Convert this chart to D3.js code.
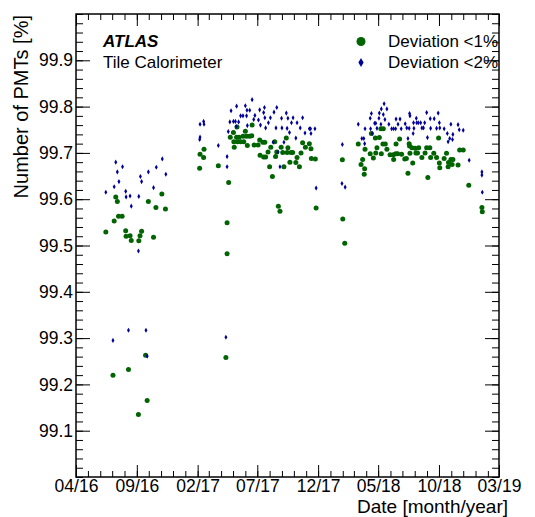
<!DOCTYPE html>
<html>
<head>
<meta charset="utf-8">
<script src="https://cdn.jsdelivr.net/npm/d3@7"></script>
<style>
  body { margin: 0; background: #fff; }
  text { font-family: "Liberation Sans", Arial, Helvetica, sans-serif; fill: #000; }
</style>
</head>
<body>
<svg id="chart" width="535" height="517"></svg>
<script>
// Fraction of good PMTs per calibration run, deviation below 1 %
const deviation1 = [
  ["2016-06-15",99.529],["2016-07-03",99.220],["2016-07-06",99.553],["2016-07-10",99.605],
  ["2016-07-14",99.595],["2016-07-17",99.563],["2016-07-26",99.563],["2016-08-04",99.532],
  ["2016-08-05",99.520],["2016-08-11",99.232],["2016-08-15",99.521],["2016-08-18",99.511],
  ["2016-09-05",99.135],["2016-09-06",99.510],["2016-09-09",99.521],["2016-09-13",99.531],
  ["2016-09-23",99.263],["2016-09-27",99.165],["2016-09-30",99.595],["2016-10-13",99.518],
  ["2016-10-19",99.582],["2016-11-03",99.611],["2016-11-12",99.579],
  ["2017-02-06",99.667],["2017-02-07",99.697],["2017-02-16",99.690],["2017-02-17",99.708],
  ["2017-03-25",99.672],["2017-04-13",99.258],["2017-04-16",99.549],["2017-04-16",99.482],
  ["2017-04-20",99.636],["2017-04-24",99.734],["2017-05-02",99.744],["2017-05-03",99.724],
  ["2017-05-04",99.712],["2017-05-10",99.734],["2017-05-11",99.756],["2017-05-12",99.724],
  ["2017-05-16",99.734],["2017-05-20",99.724],["2017-05-26",99.736],["2017-05-28",99.724],
  ["2017-06-01",99.747],["2017-06-04",99.736],["2017-06-06",99.716],["2017-06-12",99.736],
  ["2017-06-17",99.737],["2017-06-18",99.760],["2017-06-23",99.717],["2017-07-03",99.717],
  ["2017-07-07",99.728],["2017-07-08",99.695],["2017-07-15",99.723],["2017-07-17",99.691],
  ["2017-07-20",99.723],["2017-07-22",99.691],["2017-07-28",99.702],["2017-08-01",99.670],
  ["2017-08-04",99.712],["2017-08-08",99.649],["2017-08-14",99.724],["2017-08-16",99.692],
  ["2017-08-19",99.702],["2017-08-23",99.585],["2017-08-27",99.574],["2017-08-30",99.712],
  ["2017-09-03",99.701],["2017-09-06",99.670],["2017-09-12",99.732],["2017-09-14",99.701],
  ["2017-09-16",99.711],["2017-09-21",99.680],["2017-09-24",99.701],["2017-09-28",99.701],
  ["2017-10-06",99.679],["2017-10-09",99.690],["2017-10-15",99.670],["2017-10-19",99.700],
  ["2017-10-23",99.722],["2017-10-30",99.712],["2017-11-09",99.720],["2017-11-13",99.709],
  ["2017-11-14",99.688],["2017-11-24",99.687],["2017-11-26",99.581],
  ["2018-01-31",99.685],["2018-02-01",99.557],["2018-02-06",99.505],["2018-03-12",99.719],
  ["2018-03-19",99.675],["2018-03-23",99.686],["2018-03-27",99.654],["2018-03-28",99.666],
  ["2018-03-29",99.708],["2018-04-11",99.698],["2018-04-14",99.742],["2018-04-19",99.689],
  ["2018-04-24",99.732],["2018-04-25",99.700],["2018-04-28",99.711],["2018-05-04",99.733],
  ["2018-05-08",99.752],["2018-05-09",99.698],["2018-05-13",99.719],["2018-05-14",99.752],
  ["2018-05-19",99.719],["2018-05-23",99.708],["2018-05-31",99.696],["2018-06-08",99.696],
  ["2018-06-09",99.686],["2018-06-14",99.698],["2018-06-15",99.719],["2018-06-19",99.698],
  ["2018-06-24",99.730],["2018-06-29",99.697],["2018-07-07",99.687],["2018-07-11",99.688],
  ["2018-07-15",99.656],["2018-07-18",99.720],["2018-07-19",99.715],["2018-07-20",99.699],
  ["2018-07-25",99.711],["2018-07-27",99.678],["2018-08-02",99.710],["2018-08-04",99.700],
  ["2018-08-08",99.700],["2018-08-11",99.711],["2018-08-19",99.690],["2018-08-27",99.700],
  ["2018-08-31",99.711],["2018-09-03",99.647],["2018-09-08",99.711],["2018-09-10",99.690],
  ["2018-09-18",99.699],["2018-09-25",99.690],["2018-09-30",99.732],["2018-10-02",99.678],
  ["2018-10-03",99.668],["2018-10-14",99.688],["2018-10-20",99.699],["2018-10-24",99.670],
  ["2018-10-25",99.679],["2018-10-31",99.686],["2018-11-03",99.675],["2018-11-05",99.686],
  ["2018-11-18",99.674],["2018-11-22",99.706],["2018-12-01",99.706],["2018-12-15",99.630],
  ["2019-01-17",99.582],["2019-01-18",99.573]
];

// Fraction of good PMTs per calibration run, deviation below 2 %
const deviation2 = [
  ["2016-06-15",99.615],["2016-07-03",99.295],["2016-07-06",99.627],["2016-07-10",99.680],
  ["2016-07-14",99.659],["2016-07-18",99.638],["2016-07-27",99.670],["2016-08-04",99.617],
  ["2016-08-05",99.605],["2016-08-11",99.317],["2016-08-15",99.607],["2016-08-18",99.585],
  ["2016-09-05",99.488],["2016-09-06",99.606],["2016-09-10",99.649],["2016-09-13",99.638],
  ["2016-09-24",99.317],["2016-09-27",99.261],["2016-09-30",99.659],["2016-10-13",99.625],
  ["2016-10-20",99.669],["2016-11-04",99.687],["2016-11-13",99.654],
  ["2017-02-06",99.729],["2017-02-07",99.734],["2017-02-07",99.762],["2017-02-16",99.768],
  ["2017-02-17",99.762],["2017-03-25",99.716],["2017-04-13",99.302],["2017-04-16",99.692],
  ["2017-04-16",99.670],["2017-04-19",99.746],["2017-04-23",99.767],["2017-04-26",99.791],
  ["2017-05-02",99.768],["2017-05-07",99.768],["2017-05-09",99.757],["2017-05-10",99.801],
  ["2017-05-15",99.767],["2017-05-20",99.780],["2017-05-26",99.780],["2017-06-01",99.802],
  ["2017-06-04",99.780],["2017-06-05",99.792],["2017-06-06",99.759],["2017-06-12",99.792],
  ["2017-06-18",99.815],["2017-06-22",99.772],["2017-06-25",99.781],["2017-07-04",99.771],
  ["2017-07-07",99.793],["2017-07-09",99.760],["2017-07-17",99.787],["2017-07-19",99.798],
  ["2017-07-20",99.776],["2017-07-22",99.754],["2017-07-29",99.765],["2017-08-03",99.776],
  ["2017-08-10",99.723],["2017-08-12",99.788],["2017-08-17",99.754],["2017-08-19",99.798],
  ["2017-08-22",99.702],["2017-08-27",99.670],["2017-08-31",99.775],["2017-09-01",99.754],
  ["2017-09-06",99.723],["2017-09-12",99.786],["2017-09-14",99.753],["2017-09-16",99.775],
  ["2017-09-20",99.744],["2017-09-25",99.765],["2017-09-29",99.776],["2017-10-06",99.732],
  ["2017-10-09",99.765],["2017-10-17",99.754],["2017-10-23",99.776],["2017-10-29",99.743],
  ["2017-11-09",99.752],["2017-11-12",99.752],["2017-11-13",99.742],["2017-11-23",99.752],
  ["2017-11-26",99.624],
  ["2018-01-30",99.634],["2018-01-31",99.718],["2018-02-07",99.626],["2018-03-12",99.762],
  ["2018-03-21",99.731],["2018-03-26",99.731],["2018-03-28",99.720],["2018-03-29",99.752],
  ["2018-04-11",99.775],["2018-04-12",99.752],["2018-04-14",99.785],["2018-04-16",99.742],
  ["2018-04-22",99.764],["2018-04-25",99.764],["2018-04-28",99.753],["2018-05-03",99.775],
  ["2018-05-04",99.786],["2018-05-08",99.762],["2018-05-09",99.795],["2018-05-14",99.783],
  ["2018-05-16",99.806],["2018-05-18",99.772],["2018-05-23",99.795],["2018-05-28",99.762],
  ["2018-06-04",99.752],["2018-06-09",99.752],["2018-06-14",99.752],["2018-06-15",99.773],
  ["2018-06-20",99.762],["2018-06-25",99.773],["2018-06-28",99.752],["2018-07-08",99.763],
  ["2018-07-12",99.754],["2018-07-15",99.731],["2018-07-18",99.753],["2018-07-19",99.785],
  ["2018-07-20",99.780],["2018-07-28",99.742],["2018-07-29",99.765],["2018-07-30",99.753],
  ["2018-08-05",99.775],["2018-08-06",99.765],["2018-08-10",99.765],["2018-08-16",99.765],
  ["2018-08-19",99.754],["2018-08-23",99.754],["2018-08-26",99.765],["2018-08-31",99.787],
  ["2018-09-02",99.733],["2018-09-09",99.774],["2018-09-10",99.753],["2018-09-19",99.774],
  ["2018-09-25",99.753],["2018-09-29",99.786],["2018-10-02",99.765],["2018-10-03",99.754],
  ["2018-10-14",99.752],["2018-10-22",99.742],["2018-10-24",99.724],["2018-10-28",99.731],
  ["2018-10-31",99.762],["2018-11-04",99.729],["2018-11-05",99.740],["2018-11-18",99.761],
  ["2018-11-21",99.750],["2018-12-01",99.749],["2018-12-16",99.684],["2019-01-17",99.659],
  ["2019-01-17",99.652],["2019-01-18",99.615]
];

const xTickLabels = ["04/16","09/16","02/17","07/17","12/17","05/18","10/18","03/19"];
const yTickLabels = ["99.1","99.2","99.3","99.4","99.5","99.6","99.7","99.8","99.9"];
const legendLabels = ["Deviation <1%", "Deviation <2%"];
const seriesColors = ["#006400", "#000099"];

const parseDate = d3.utcParse("%Y-%m-%d");
const parseTick = d3.utcParse("%m/%y");

const svg = d3.select("#chart");
const plotLeft = 76, plotRight = 499, plotTop = 14, plotBottom = 477;

const x = d3.scaleUtc()
  .domain([parseTick(xTickLabels[0]), parseTick(xTickLabels[xTickLabels.length - 1])])
  .range([plotLeft, plotRight]);
const y = d3.scaleLinear().domain([99.0, 100.0]).range([plotBottom, plotTop]);

const majorX = xTickLabels.map(parseTick);
const minorX = d3.utcMonth.range(x.domain()[0], d3.utcDay.offset(x.domain()[1], 1));
const majorY = yTickLabels.map(Number);
const minorY = d3.range(0, 51).map(i => +(99.0 + i * 0.02).toFixed(2));

const fmt = d3.utcFormat("%m/%y");

function styleAxis(g) {
  g.select(".domain").remove();
  g.selectAll("line").attr("stroke", "#000").attr("stroke-width", 1);
}

// bottom axis: minor then major ticks pointing inward, labels below
svg.append("g").attr("transform", `translate(0,${plotBottom})`)
  .call(d3.axisBottom(x).tickValues(minorX).tickSize(-6).tickFormat(""))
  .call(styleAxis);
svg.append("g").attr("transform", `translate(0,${plotBottom})`)
  .call(d3.axisBottom(x).tickValues(majorX).tickSize(-12).tickPadding(3).tickFormat(fmt))
  .call(styleAxis)
  .call(g => g.selectAll("text").attr("font-size", "17.5px").attr("fill", "#000"));

// top axis mirror
svg.append("g").attr("transform", `translate(0,${plotTop})`)
  .call(d3.axisTop(x).tickValues(minorX).tickSize(-6).tickFormat(""))
  .call(styleAxis);
svg.append("g").attr("transform", `translate(0,${plotTop})`)
  .call(d3.axisTop(x).tickValues(majorX).tickSize(-12).tickFormat(""))
  .call(styleAxis);

// left axis
svg.append("g").attr("transform", `translate(${plotLeft},0)`)
  .call(d3.axisLeft(y).tickValues(minorY).tickSize(-7).tickFormat(""))
  .call(styleAxis);
svg.append("g").attr("transform", `translate(${plotLeft},0)`)
  .call(d3.axisLeft(y).tickValues(majorY).tickSize(-14).tickPadding(3).tickFormat(d3.format(".1f")))
  .call(styleAxis)
  .call(g => g.selectAll("text").attr("font-size", "17.5px").attr("fill", "#000"));

// right axis mirror
svg.append("g").attr("transform", `translate(${plotRight},0)`)
  .call(d3.axisRight(y).tickValues(minorY).tickSize(-7).tickFormat(""))
  .call(styleAxis);
svg.append("g").attr("transform", `translate(${plotRight},0)`)
  .call(d3.axisRight(y).tickValues(majorY).tickSize(-14).tickFormat(""))
  .call(styleAxis);

// frame
svg.append("rect")
  .attr("x", plotLeft).attr("y", plotTop)
  .attr("width", plotRight - plotLeft).attr("height", plotBottom - plotTop)
  .attr("fill", "none").attr("stroke", "#000").attr("stroke-width", 1.5);

// axis titles
svg.append("text")
  .attr("x", 508).attr("y", 513)
  .attr("text-anchor", "end").attr("font-size", "19px")
  .text("Date [month/year]");
svg.append("text")
  .attr("transform", `translate(28,${plotTop + 1}) rotate(-90)`)
  .attr("text-anchor", "end").attr("font-size", "20px")
  .text("Number of PMTs [%]");

// markers
const diamond = d3.symbol().type(d3.symbolDiamond);

svg.append("g").selectAll("circle")
  .data(deviation1).join("circle")
  .attr("cx", d => x(parseDate(d[0])))
  .attr("cy", d => y(d[1]))
  .attr("r", 2.5)
  .attr("fill", seriesColors[0]);

svg.append("g").selectAll("path")
  .data(deviation2).join("path")
  .attr("transform", d => `translate(${x(parseDate(d[0]))},${y(d[1])})`)
  .attr("d", diamond.size(7.5)())
  .attr("fill", seriesColors[1]);

// labels
svg.append("text")
  .attr("x", 103).attr("y", 47)
  .attr("font-size", "17px").attr("font-weight", "bold").attr("font-style", "italic")
  .text("ATLAS");
svg.append("text")
  .attr("x", 103).attr("y", 68)
  .attr("font-size", "17px")
  .text("Tile Calorimeter");

// legend
const legend = svg.append("g");
legend.append("circle").attr("cx", 361).attr("cy", 41.5).attr("r", 4.5).attr("fill", seriesColors[0]);
legend.append("path")
  .attr("transform", "translate(361,62.5)")
  .attr("d", d3.symbol().type(d3.symbolDiamond).size(24)())
  .attr("fill", seriesColors[1]);
legend.selectAll("text.lab")
  .data(legendLabels).join("text")
  .attr("class", "lab")
  .attr("x", 388)
  .attr("y", (d, i) => 47 + i * 21)
  .attr("font-size", "17px")
  .text(d => d);
</script>
</body>
</html>
